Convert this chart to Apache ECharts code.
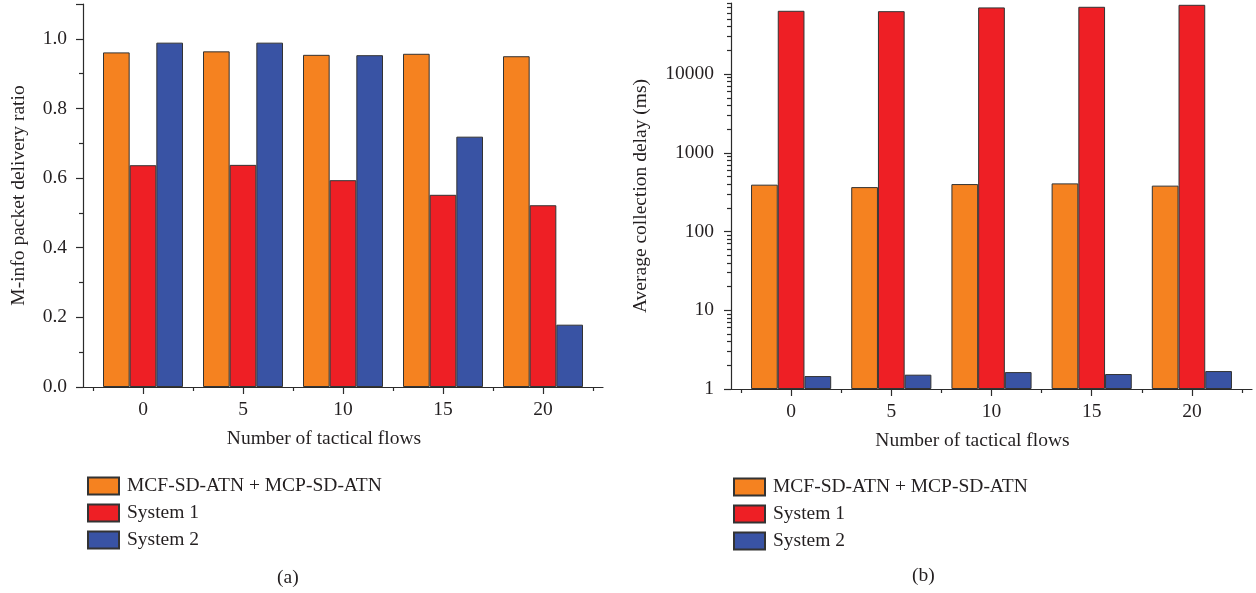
<!DOCTYPE html>
<html>
<head>
<meta charset="utf-8">
<script src="https://cdn.jsdelivr.net/npm/echarts@6/dist/echarts.min.js"></script>
<style>
html,body{margin:0;padding:0;background:#fff;}
#c{width:1256px;height:593px;}
</style>
</head>
<body>
<div id="c"></div>
<script>
// ---- data ----
const flows = [0, 5, 10, 15, 20];
const seriesNames = ['MCF-SD-ATN + MCP-SD-ATN', 'System 1', 'System 2'];
// (a) M-info packet delivery ratio
const ratioMCF = [0.961, 0.964, 0.954, 0.957, 0.950];
const ratioSys1 = [0.637, 0.638, 0.594, 0.552, 0.522];
const ratioSys2 = [0.989, 0.989, 0.953, 0.719, 0.179];
// (b) Average collection delay (ms)
const delayMCF = [394, 367, 401, 409, 383];
const delaySys1 = [63700, 63000, 70300, 71600, 75900];
const delaySys2 = [1.46, 1.52, 1.64, 1.55, 1.69];
// tick positions / labels
const xTickValues = [0, 5, 10, 15, 20];
const xMinorTickValues = [-2.5, 2.5, 7.5, 12.5, 17.5, 22.5];
const logMajorTicks = [1, 10, 100, 1000, 10000];
const logMinorTicks = [2,3,4,5,6,7,8,9,20,30,40,50,60,70,80,90,200,300,400,500,600,700,800,900,2000,3000,4000,5000,6000,7000,8000,9000,20000,30000,40000,50000,60000,70000,80000];

const colors = ['#f58220', '#ee1f25', '#3953a4'];
const FONT = '"Liberation Serif", "DejaVu Serif", serif';
const FS = 19.5;
const TXT = '#231f20';
const AX = '#2b2b2b';

const chart = echarts.init(document.getElementById('c'));

function pairs(vals) { return flows.map((x, i) => [x, vals[i]]); }

function xAxisMain(gridIndex) {
  return {
    type: 'value', gridIndex, min: -3, max: 23, position: 'bottom',
    name: 'Number of tactical flows', nameLocation: 'middle', nameGap: 42,
    nameTextStyle: { fontFamily: FONT, fontSize: FS, color: TXT, padding: [0, 38, 0, 0] },
    axisLine: { show: true, onZero: false, lineStyle: { color: AX, width: 1.2 } },
    axisTick: { show: true, length: 7, inside: false, customValues: xTickValues, lineStyle: { color: AX, width: 1.2 } },
    axisLabel: { show: true, margin: 13, customValues: xTickValues, fontFamily: FONT, fontSize: FS, color: TXT },
    splitLine: { show: false }, minorTick: { show: false }
  };
}
function xAxisMinor(gridIndex) {
  return {
    type: 'value', gridIndex, min: -3, max: 23, position: 'bottom',
    axisLine: { show: false, onZero: false },
    axisTick: { show: true, length: 4, customValues: xMinorTickValues, lineStyle: { color: AX, width: 1.2 } },
    axisLabel: { show: false }, splitLine: { show: false }
  };
}

const option = {
  animation: false,
  backgroundColor: '#fff',
  grid: [
    { left: 83, right: 653, top: 4, bottom: 206, outerBoundsMode: 'none', containLabel: false },
    { left: 731, right: 4, top: 3, bottom: 204, outerBoundsMode: 'none', containLabel: false }
  ],
  xAxis: [xAxisMain(0), xAxisMain(1), xAxisMinor(0), xAxisMinor(1)],
  yAxis: [
    {
      type: 'value', gridIndex: 0, min: 0, max: 1.1, interval: 0.2, position: 'left',
      name: 'M-info packet delivery ratio', nameLocation: 'middle', nameGap: 54,
      nameTextStyle: { fontFamily: FONT, fontSize: FS, color: TXT },
      axisLine: { show: true, onZero: false, lineStyle: { color: AX, width: 1.2 } },
      axisTick: { show: true, length: 7, lineStyle: { color: AX, width: 1.2 } },
      minorTick: { show: true, splitNumber: 2, length: 4, lineStyle: { color: AX, width: 1.2 } },
      axisLabel: { margin: 16, showMaxLabel: false, fontFamily: FONT, fontSize: FS, color: TXT,
        formatter: v => v.toFixed(1) },
      splitLine: { show: false }
    },
    {
      type: 'log', logBase: 10, gridIndex: 1, min: 1, max: 80000, position: 'left',
      name: 'Average collection delay (ms)', nameLocation: 'middle', nameGap: 80,
      nameTextStyle: { fontFamily: FONT, fontSize: FS, color: TXT },
      axisLine: { show: true, onZero: false, lineStyle: { color: AX, width: 1.2 } },
      axisTick: { show: true, length: 7, customValues: logMajorTicks, lineStyle: { color: AX, width: 1.2 } },
      axisLabel: { margin: 17, customValues: logMajorTicks, fontFamily: FONT, fontSize: FS, color: TXT,
        formatter: v => String(Math.round(v)) },
      splitLine: { show: false }, minorTick: { show: false }
    },
    {
      type: 'log', logBase: 10, gridIndex: 1, min: 1, max: 80000, position: 'left',
      axisLine: { show: false, onZero: false },
      axisTick: { show: true, length: 4, customValues: logMinorTicks, lineStyle: { color: AX, width: 1.2 } },
      axisLabel: { show: false }, splitLine: { show: false }
    }
  ],
  legend: [
    { orient: 'vertical', left: 82, top: 471, itemWidth: 31, itemHeight: 17, itemGap: 7, icon: 'rect',
      data: seriesNames, textStyle: { fontFamily: FONT, fontSize: FS, color: TXT, lineHeight: 17, padding: [0, 0, 0, 3] },
      selectedMode: false },
    { orient: 'vertical', left: 728, top: 472, itemWidth: 31, itemHeight: 17, itemGap: 7, icon: 'rect',
      data: seriesNames, textStyle: { fontFamily: FONT, fontSize: FS, color: TXT, lineHeight: 17, padding: [0, 0, 0, 3] },
      selectedMode: false }
  ],
  graphic: [
    { type: 'text', left: 277, top: 568, style: { text: '(a)', font: FS + 'px ' + FONT, fill: TXT } },
    { type: 'text', left: 912, top: 566, style: { text: '(b)', font: FS + 'px ' + FONT, fill: TXT } }
  ],
  series: []
};

const leftVals = [ratioMCF, ratioSys1, ratioSys2];
const rightVals = [delayMCF, delaySys1, delaySys2];
seriesNames.forEach((name, k) => {
  option.series.push({
    type: 'bar', name, xAxisIndex: 0, yAxisIndex: 0, data: pairs(leftVals[k]),
    barGap: '0%', barCategoryGap: '20%',
    itemStyle: { color: colors[k], borderColor: '#333', borderWidth: 1 }
  });
});
seriesNames.forEach((name, k) => {
  option.series.push({
    type: 'bar', name, xAxisIndex: 1, yAxisIndex: 1, data: pairs(rightVals[k]),
    barGap: '0%', barCategoryGap: '20%',
    itemStyle: { color: colors[k], borderColor: '#333', borderWidth: 1 }
  });
});

chart.setOption(option);
</script>
</body>
</html>
